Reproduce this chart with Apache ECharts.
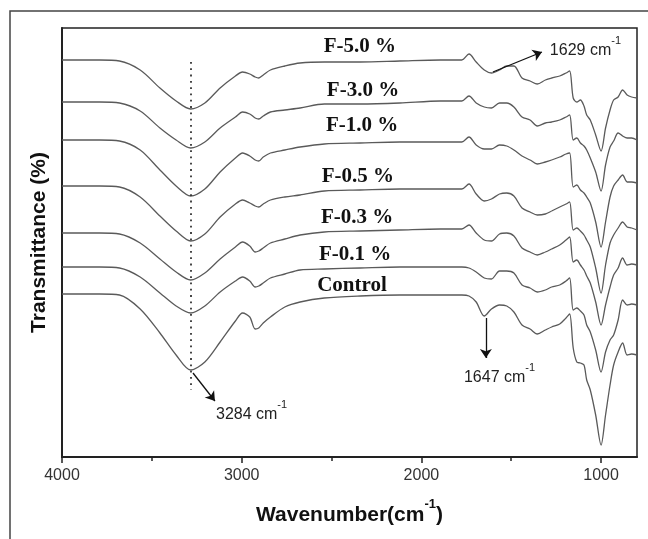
<!DOCTYPE html>
<html>
<head>
<meta charset="utf-8">
<title>FTIR spectra</title>
<script src="https://cdn.jsdelivr.net/npm/echarts@6/dist/echarts.min.js"></script>
<style>
  html, body { margin: 0; padding: 0; background: #fff; }
  #chart { width: 648px; height: 539px; }
</style>
</head>
<body>
<div id="chart"></div>
<script>
var waveNumbers = [4000, 3790, 3680, 3565, 3455, 3365, 3284, 3205, 3120, 3035,
  2995, 2955, 2925, 2905, 2880, 2840, 2760, 2675, 2540, 2340,
  2120, 1895, 1775, 1735, 1695, 1650, 1610, 1565, 1525, 1485,
  1440, 1395, 1355, 1310, 1275, 1230, 1195, 1175, 1155, 1135,
  1115, 1095, 1080, 1060, 1030, 1000, 975, 950, 930, 905,
  880, 855, 830, 800];

// transmittance (stacked, arbitrary units)
var f50 = [397, 397, 396, 387, 369, 356, 348, 354, 369, 381,
  385, 383, 380, 379, 382, 387, 391, 394, 395, 395,
  396, 397, 397, 403, 395, 387, 384, 387, 391, 391,
  379, 376, 373, 377, 379, 381, 384, 386, 359, 355,
  357, 351, 342, 337, 322, 306, 329, 347, 357, 360,
  367, 362, 360, 359];
var f30 = [355, 355, 354, 346, 329, 317, 309, 315, 329, 340,
  345, 343, 339, 338, 341, 345, 347, 349, 353, 353,
  354, 356, 356, 361, 354, 350, 349, 354, 354, 350,
  340, 337, 331, 334, 335, 337, 340, 342, 317, 319,
  314, 311, 307, 299, 285, 266, 292, 310, 316, 324,
  321, 319, 319, 317];
var f10 = [317, 317, 316, 307, 287, 271, 261, 268, 285, 299,
  304, 301, 297, 296, 300, 304, 307, 310, 313, 314,
  315, 315, 315, 320, 312, 308, 308, 312, 311, 307,
  301, 297, 293, 295, 297, 300, 303, 304, 270, 272,
  267, 264, 260, 254, 235, 210, 235, 260, 271, 277,
  282, 275, 275, 274];
var f05 = [271, 271, 270, 260, 241, 226, 216, 223, 240, 253,
  257, 254, 251, 250, 253, 257, 260, 262, 266, 267,
  268, 268, 268, 273, 263, 256, 258, 263, 264, 261,
  249, 245, 242, 243, 246, 250, 253, 255, 227, 229,
  226, 222, 217, 210, 189, 164, 192, 214, 222, 229,
  235, 230, 229, 227];
var f03 = [224, 224, 223, 214, 198, 185, 177, 184, 198, 210,
  215, 211, 205, 206, 209, 214, 218, 222, 225, 226,
  227, 228, 228, 232, 224, 217, 216, 223, 224, 221,
  209, 205, 202, 205, 208, 212, 217, 220, 195, 197,
  192, 187, 181, 174, 155, 132, 152, 170, 182, 189,
  199, 192, 193, 192];
var f01 = [190, 190, 189, 180, 164, 151, 144, 151, 165, 176,
  180, 176, 170, 171, 174, 179, 183, 187, 188, 189,
  190, 190, 190, 189, 185, 179, 178, 186, 186, 184,
  172, 169, 165, 167, 170, 172, 176, 179, 147, 149,
  146, 142, 132, 125, 107, 85, 105, 117, 122, 137,
  157, 152, 153, 152];
var control = [163, 163, 162, 148, 124, 102, 87, 95, 115, 136,
  144, 140, 128, 129, 134, 140, 150, 155, 159, 161,
  162, 162, 162, 161, 155, 141, 148, 152, 151, 145,
  132, 128, 123, 127, 130, 133, 139, 143, 109, 95,
  94, 92, 77, 67, 42, 12, 42, 72, 92, 105,
  114, 102, 103, 102];

var seriesNames = ['F-5.0 %', 'F-3.0 %', 'F-1.0 %', 'F-0.5 %', 'F-0.3 %', 'F-0.1 %', 'Control'];
var seriesValues = [f50, f30, f10, f05, f03, f01, control];
// where each curve name sits
var labelWave = [2342, 2325, 2330, 2353, 2358, 2369, 2386];
var labelLevel = [410, 366, 331, 280, 239, 202, 171];

var majorTicks = [1000, 2000, 3000, 4000];
var minorTicks = [1500, 2500, 3500];

// peak annotations
var peakNames = ['3284', '1647', '1629'];
var peakTextWave = [2945, 1565, 1087];
var peakTextLevel = [46, 83, 410];
var arrowFrom = [[3271, 84], [1641, 139], [1602, 385]];
var arrowTo = [[3149, 56], [1641, 99], [1329, 405]];
var dashWave = 3284;
var dashRange = [395, 67];

var sans = "'Liberation Sans', Arial, sans-serif";
var serif = "'Liberation Serif', 'Times New Roman', serif";

var chart = echarts.init(document.getElementById('chart'), null, {renderer: 'canvas'});

var series = seriesValues.map(function(vals, i) {
  return {
    name: seriesNames[i],
    type: 'line',
    data: waveNumbers.map(function(w, k) { return [w, vals[k]]; }),
    showSymbol: false,
    smooth: 0.3,
    silent: true,
    lineStyle: { color: '#5a5a5a', width: 1.3 },
    markPoint: {
      silent: true,
      symbol: 'circle',
      symbolSize: 1,
      itemStyle: { color: 'transparent' },
      label: {
        show: true,
        position: 'inside',
        formatter: seriesNames[i],
        fontFamily: serif,
        fontWeight: 'bold',
        fontSize: 21,
        color: '#111'
      },
      data: [{ coord: [labelWave[i], labelLevel[i]] }]
    }
  };
});

// annotations hang on the Control series
var ctrl = series[series.length - 1];
var markLines = [[
  { coord: [dashWave, dashRange[0]], symbol: 'none',
    lineStyle: { type: [1.8, 4.5], width: 1.8, color: '#333' } },
  { coord: [dashWave, dashRange[1]], symbol: 'none' }
]];
arrowFrom.forEach(function(p, i) {
  markLines.push([{ coord: p }, { coord: arrowTo[i] }]);
});
ctrl.markLine = {
  silent: true,
  symbol: ['none', 'arrow'],
  symbolSize: 9,
  label: { show: false },
  lineStyle: { type: 'solid', color: '#111', width: 1.3 },
  data: markLines
};
peakNames.forEach(function(p, i) {
  ctrl.markPoint.data.push({
    coord: [peakTextWave[i], peakTextLevel[i]],
    label: {
      fontWeight: 'normal',
      formatter: '{b|' + p + ' cm}{s|-1}',
      rich: {
        b: { fontFamily: sans, fontWeight: 'normal', fontSize: 16, color: '#222', verticalAlign: 'bottom' },
        s: { fontFamily: sans, fontWeight: 'normal', fontSize: 11, color: '#222', verticalAlign: 'top', padding: [0, 0, 12, 0] }
      }
    }
  });
});

var option = {
  animation: false,
  backgroundColor: '#fff',
  grid: {
    left: 62, right: 11, top: 28, bottom: 82,
    show: true, borderColor: '#222', borderWidth: 1.5, backgroundColor: 'transparent'
  },
  graphic: [{
    type: 'rect',
    shape: { x: 10, y: 11, width: 700, height: 600 },
    style: { fill: 'none', stroke: '#444', lineWidth: 1.5 },
    silent: true
  }],
  xAxis: [{
    type: 'value',
    min: 800,
    max: 4000,
    inverse: true,
    position: 'bottom',
    axisLine: { show: true, onZero: false, lineStyle: { color: '#222', width: 2 } },
    axisTick: { show: true, inside: false, length: 6, customValues: majorTicks,
      lineStyle: { color: '#222', width: 1.5 } },
    axisLabel: {
      customValues: majorTicks, margin: 11, fontFamily: sans, fontSize: 16, color: '#333',
      formatter: function(v) { return String(v); }
    },
    splitLine: { show: false },
    name: '{b|Wavenumber(cm}{s|-1}{b|)}',
    nameLocation: 'middle',
    nameGap: 41,
    nameTextStyle: {
      rich: {
        b: { fontFamily: sans, fontWeight: 'bold', fontSize: 21, color: '#111', verticalAlign: 'bottom' },
        s: { fontFamily: sans, fontWeight: 'bold', fontSize: 13, color: '#111', verticalAlign: 'top', padding: [0, 0, 15, 0] }
      }
    }
  }, {
    type: 'value',
    min: 800,
    max: 4000,
    inverse: true,
    position: 'bottom',
    axisLine: { show: false },
    axisTick: { show: true, inside: false, length: 4, customValues: minorTicks,
      lineStyle: { color: '#222', width: 1.5 } },
    axisLabel: { show: false },
    splitLine: { show: false }
  }],
  yAxis: {
    type: 'value',
    min: 0,
    max: 429,
    axisLine: { show: true, onZero: false, lineStyle: { color: '#222', width: 2 } },
    axisTick: { show: false },
    axisLabel: { show: false },
    splitLine: { show: false },
    name: 'Transmittance (%)',
    nameLocation: 'middle',
    nameGap: 12,
    nameTextStyle: { fontFamily: sans, fontWeight: 'bold', fontSize: 21, color: '#111' }
  },
  series: series
};

chart.setOption(option);
window.addEventListener('resize', function() {
  chart.resize();
});
</script>
</body>
</html>
